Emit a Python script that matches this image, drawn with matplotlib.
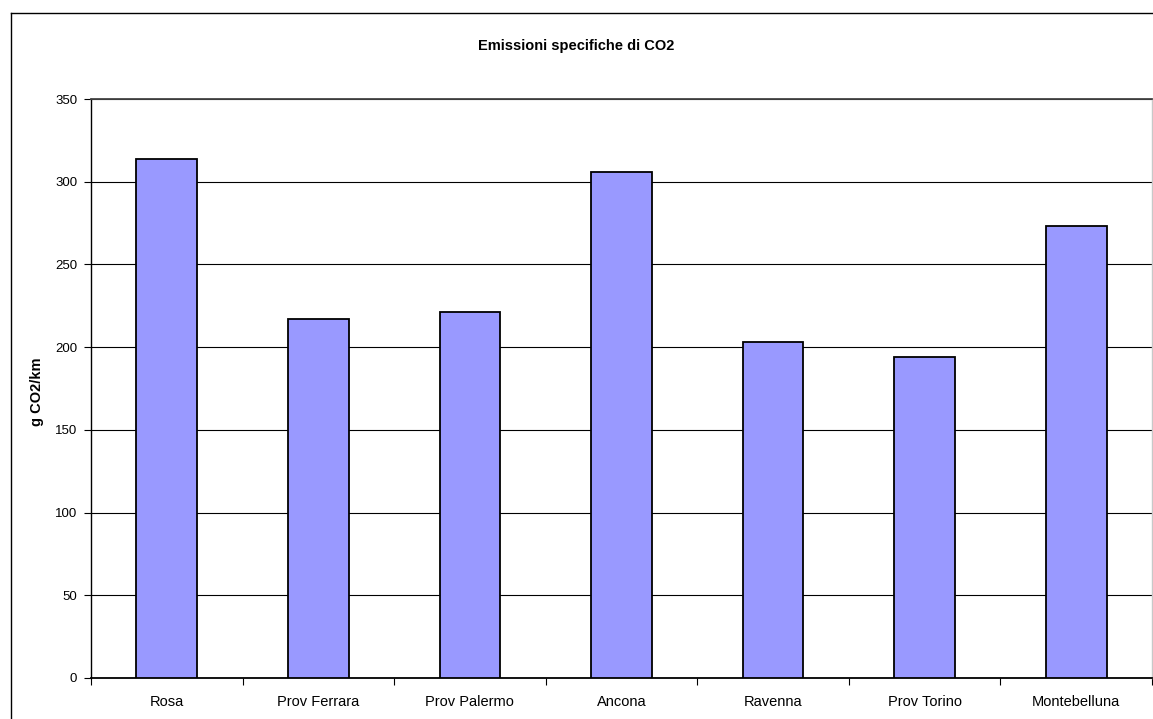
import matplotlib
matplotlib.use("Agg")
import matplotlib.pyplot as plt
from matplotlib.lines import Line2D

categories = ["Rosa", "Prov Ferrara", "Prov Palermo", "Ancona", "Ravenna", "Prov Torino", "Montebelluna"]
values = [314, 217, 221, 306, 203, 194, 273]
yticks = [0, 50, 100, 150, 200, 250, 300, 350]

plt.rcParams['font.family'] = ['Liberation Sans', 'DejaVu Sans']

W, H = 1153, 719
fig = plt.figure(figsize=(W / 100, H / 100), dpi=100)
fig.patch.set_facecolor("white")

left, right, top, bottom = 91, 1152, 99, 678
ax = fig.add_axes([left / W, 1 - bottom / H, (right - left) / W, (bottom - top) / H])

x = list(range(len(categories)))
ax.bar(x, values, width=0.4, color="#9999ff", edgecolor="black", linewidth=1.3, zorder=3)

ax.set_xlim(-0.5, len(categories) - 0.5)
ax.set_ylim(0, 350)
ax.set_yticks(yticks)
ax.set_yticklabels([str(v) for v in yticks], fontsize=9.5)
ax.set_xticks(x)
ax.set_xticklabels(categories, fontsize=10.5)
ax.set_xticks([i - 0.5 for i in range(len(categories) + 1)], minor=True)
ax.tick_params(axis="x", which="major", length=0, pad=12.5)
ax.tick_params(axis="x", which="minor", length=5, width=0.8, direction="out")
ax.tick_params(axis="y", which="major", length=5, width=0.8, direction="out", pad=5)

ax.yaxis.grid(True, color="black", linewidth=0.8, zorder=0)
ax.set_axisbelow(True)

ax.spines["left"].set_color("black")
ax.spines["left"].set_linewidth(1.0)
ax.spines["bottom"].set_color("black")
ax.spines["bottom"].set_linewidth(1.3)
ax.spines["top"].set_color("#444444")
ax.spines["top"].set_linewidth(1.3)
ax.spines["right"].set_color("#c8c8c8")
ax.spines["right"].set_linewidth(1.0)

fig.text(576 / W, 1 - 46 / H, "Emissioni specifiche di CO2", ha="center", va="center",
         fontsize=10.5, fontweight="bold")
fig.text(37 / W, 1 - 392 / H, "g CO2/km", ha="center", va="center", rotation=90,
         fontsize=10.5, fontweight="bold")

# outer chart border
fig.add_artist(Line2D([11 / W, 1.0], [1 - 13 / H, 1 - 13 / H], color="black", linewidth=1.0,
                      transform=fig.transFigure))
fig.add_artist(Line2D([11 / W, 11 / W], [0.0, 1 - 13 / H], color="black", linewidth=1.0,
                      transform=fig.transFigure))

fig.savefig("out.png", dpi=100)
